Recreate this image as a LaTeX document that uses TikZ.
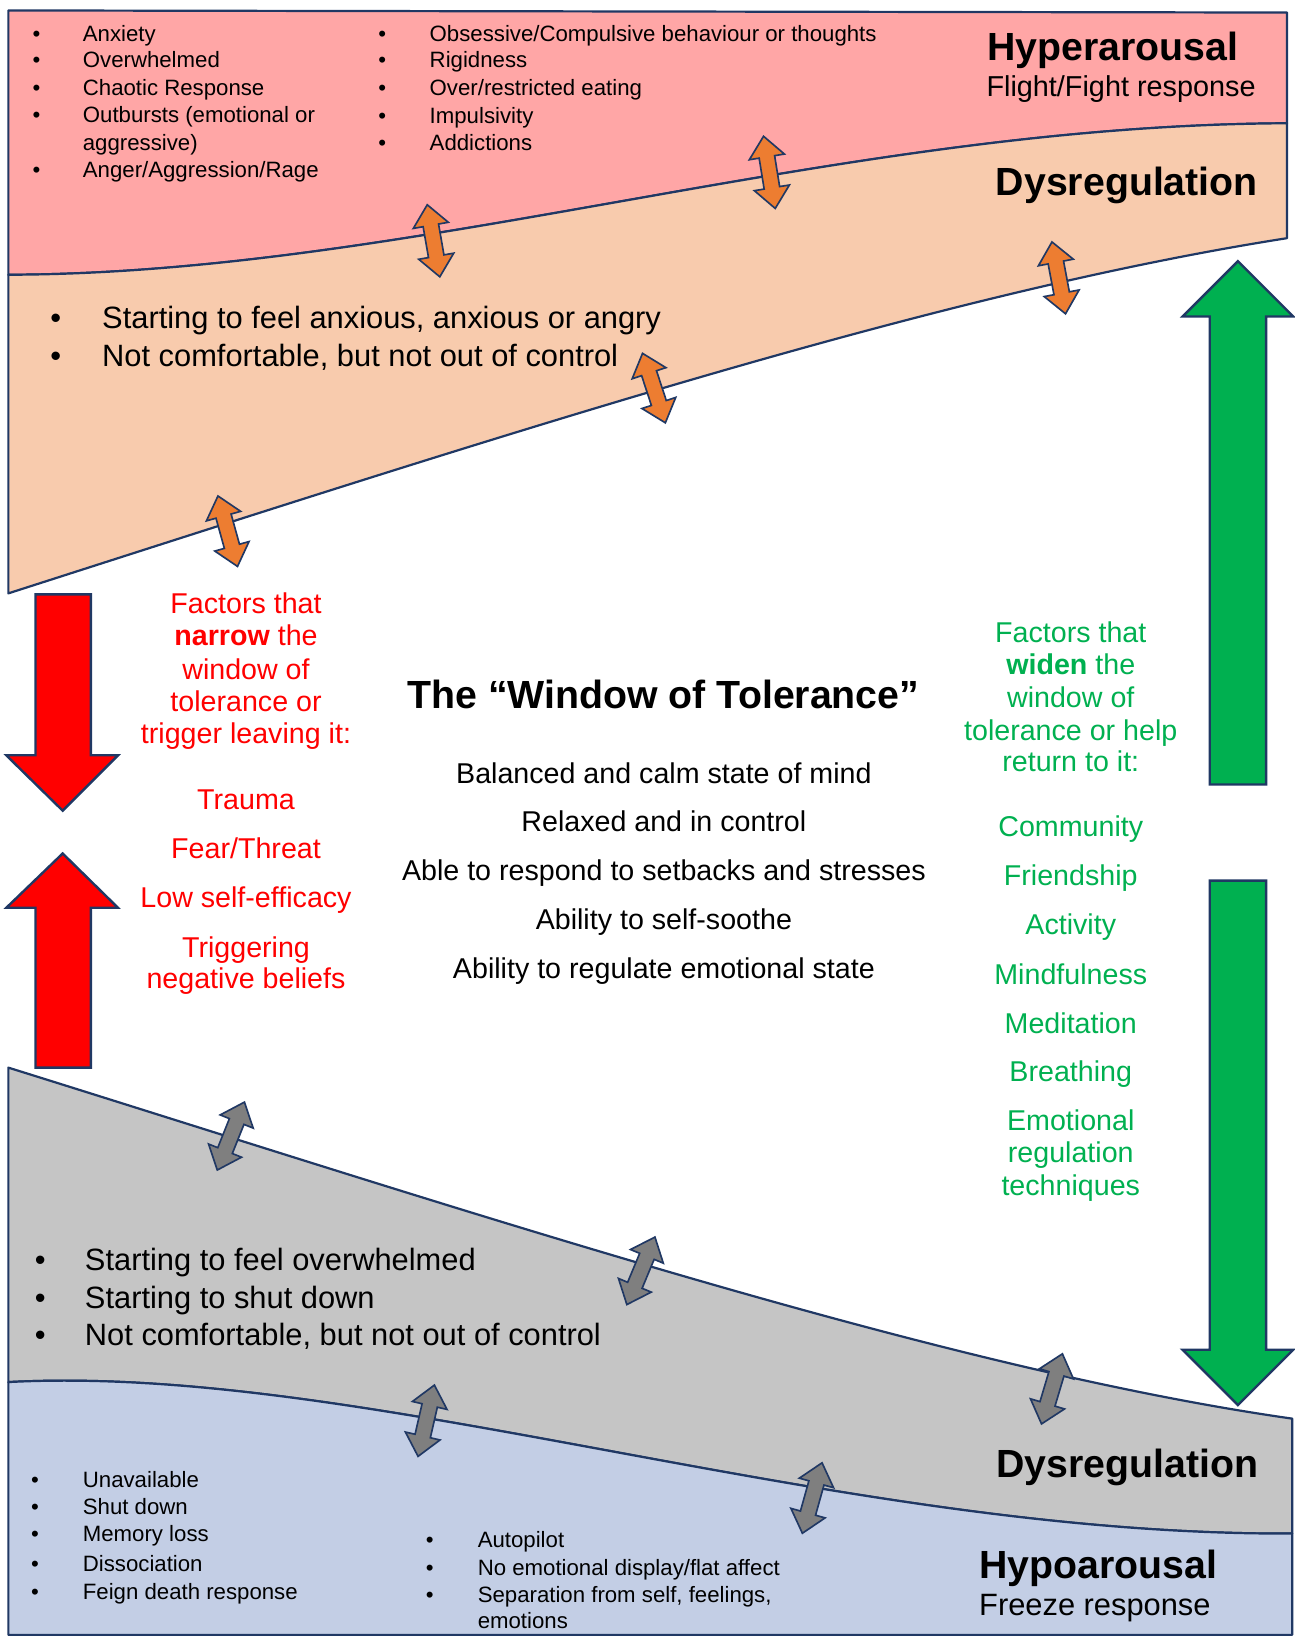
\documentclass[tikz,border=0pt]{standalone}
\usepackage{fontspec}
\setmainfont{Liberation Sans}
\definecolor{navy}{HTML}{203864}
\definecolor{pinkF}{HTML}{FFA6A6}
\definecolor{peachF}{HTML}{F8CBAD}
\definecolor{grayF}{HTML}{C5C5C5}
\definecolor{blueF}{HTML}{C3CEE5}
\definecolor{orangeF}{HTML}{ED7D31}
\definecolor{grayA}{HTML}{7F7F7F}
\definecolor{redF}{HTML}{FF0000}
\definecolor{greenF}{HTML}{00B050}
\tikzset{
  dbl/.pic={\path[pic actions] (0,35) -- (17,15) -- (7.5,15) -- (7.5,-15) -- (17,-15) -- (0,-35) -- (-17,-15) -- (-7.5,-15) -- (-7.5,15) -- (-17,15) -- cycle;}
}
\begin{document}
\begin{tikzpicture}[x=0.02cm,y=-0.02cm,
  region/.style={draw=navy,line width=1.2pt,line join=round},
  bigarr/.style={draw=navy,line width=1.3pt,line join=miter},
  dblo/.style={fill=orangeF,draw=navy,line width=0.9pt,line join=miter},
  dblg/.style={fill=grayA,draw=navy,line width=0.9pt,line join=miter},
  lw/.style={inner sep=0pt,anchor=base west},
  lc/.style={inner sep=0pt,anchor=base},
  fs/.style={font=\fontsize{12.1}{14}\selectfont},
  fm/.style={font=\fontsize{16.8}{20}\selectfont},
  fr/.style={font=\fontsize{15.6}{18}\selectfont},
  fh/.style={font=\fontsize{21.4}{25}\selectfont\bfseries},
]
\useasboundingbox (0,0) rectangle (1239,1568);

% regions
\path[region,fill=pinkF] (8,10) -- (1232,12) -- (1232,118) .. controls (800,120) and (400,262) .. (8,263) -- cycle;
\path[region,fill=peachF] (8,263) .. controls (400,262) and (800,120) .. (1232,118) -- (1232,228) .. controls (900,280) and (500,410) .. (8,568) -- cycle;
\path[region,fill=grayF] (8,1022) .. controls (450,1160) and (900,1310) .. (1237,1358) -- (1237,1468) .. controls (800,1470) and (350,1305) .. (8,1323) -- cycle;
\path[region,fill=blueF] (8,1323) .. controls (350,1305) and (800,1470) .. (1237,1468) -- (1237,1565) -- (8,1565) -- cycle;

% big arrows
\path[bigarr,fill=redF] (34,569) -- (87,569) -- (87,723) -- (113,723) -- (60,776) -- (6,723) -- (34,723) -- cycle;
\path[bigarr,fill=redF] (60,817) -- (113,869) -- (87,869) -- (87,1022) -- (34,1022) -- (34,869) -- (6,869) -- cycle;
\path[bigarr,fill=greenF] (1185,250) -- (1238,303) -- (1212,303) -- (1212,751) -- (1158,751) -- (1158,303) -- (1132,303) -- cycle;
\path[bigarr,fill=greenF] (1158,843) -- (1212,843) -- (1212,1292) -- (1238,1292) -- (1185,1345) -- (1132,1292) -- (1158,1292) -- cycle;

% small double arrows
\pic[dblo,rotate=9.9] at (415,230.5) {dbl};
\pic[dblo,rotate=9.2] at (736.5,165) {dbl};
\pic[dblo,rotate=10.7] at (1013.5,266) {dbl};
\pic[dblo,rotate=18.2] at (626,371.5) {dbl};
\pic[dblo,rotate=15.5] at (218,508.5) {dbl};
\pic[dblg,rotate=-21.8] at (221,1087.5) {dbl};
\pic[dblg,rotate=-22.6] at (613.5,1216.5) {dbl};
\pic[dblg,rotate=-16.6] at (1007,1329.5) {dbl};
\pic[dblg,rotate=-12.9] at (408,1360) {dbl};
\pic[dblg,rotate=-15.6] at (777.5,1434) {dbl};

% hyperarousal lists
\node[lc,fs] (pb1) at (35,39.7) {•};
\node[lc,fs] (pb2) at (35,64.7) {•};
\node[lc,fs] (pb3) at (35,91.7) {•};
\node[lc,fs] (pb4) at (35,117.7) {•};
\node[lc,fs] (pb6) at (35,169.7) {•};
\node[lw,fs] (pa1) at (79,39.7) {Anxiety};
\node[lw,fs] (pa2) at (79,64.7) {Overwhelmed};
\node[lw,fs] (pa3) at (79,91.7) {Chaotic Response};
\node[lw,fs] (pa4) at (79,117.7) {Outbursts (emotional or};
\node[lw,fs] (pa5) at (79,143.7) {aggressive)};
\node[lw,fs] (pa6) at (79,169.7) {Anger/Aggression/Rage};
\node[lc,fs] (qb1) at (366,39.7) {•};
\node[lc,fs] (qb2) at (366,64.7) {•};
\node[lc,fs] (qb3) at (366,91.7) {•};
\node[lc,fs] (qb4) at (366,118) {•};
\node[lc,fs] (qb5) at (366,144.5) {•};
\node[lw,fs] (qa1) at (411,39.7) {Obsessive/Compulsive behaviour or thoughts};
\node[lw,fs] (qa2) at (411,64.7) {Rigidness};
\node[lw,fs] (qa3) at (411,91.7) {Over/restricted eating};
\node[lw,fs] (qa4) at (411,118) {Impulsivity};
\node[lw,fs] (qa5) at (411,144.5) {Addictions};

\node[lw,fh] (hyper) at (945,58) {Hyperarousal};
\node[lw,font=\fontsize{15.7}{18}\selectfont] (flight) at (944,92.6) {Flight/Fight response};
\node[lw,fh] (dysT) at (953,186.7) {Dysregulation};

% peach bullets
\node[lc,fm] (eb1) at (53.5,314) {•};
\node[lc,fm] (eb2) at (53.5,350.5) {•};
\node[lw,fm] (ea1) at (97.5,314) {Starting to feel anxious, anxious or angry};
\node[lw,fm] (ea2) at (97.5,350.5) {Not comfortable, but not out of control};

% red block
\node[lc,fr,text=redF] (r1) at (235.5,587.5) {Factors that};
\node[lc,fr,text=redF] (r2) at (235.5,618) {\textbf{narrow} the};
\node[lc,fr,text=redF] (r3) at (235.5,650) {window of};
\node[lc,fr,text=redF] (r4) at (235.5,681.5) {tolerance or};
\node[lc,fr,text=redF] (r5) at (235.5,711.5) {trigger leaving it:};
\node[lc,fr,text=redF] (r6) at (235.5,774.5) {Trauma};
\node[lc,fr,text=redF] (r7) at (235.5,821.5) {Fear/Threat};
\node[lc,fr,text=redF] (r8) at (235.5,868.5) {Low self-efficacy};
\node[lc,fr,text=redF] (r9) at (235.5,917) {Triggering};
\node[lc,fr,text=redF] (r10) at (235.5,946.5) {negative beliefs};

% centre block
\node[lc,fh] (title) at (635,678.5) {The “Window of Tolerance”};
\node[lc,fr] (m1) at (635.5,750) {Balanced and calm state of mind};
\node[lc,fr] (m2) at (635.5,796) {Relaxed and in control};
\node[lc,fr] (m3) at (635.5,843) {Able to respond to setbacks and stresses};
\node[lc,fr] (m4) at (635.5,890) {Ability to self-soothe};
\node[lc,fr] (m5) at (635.5,937) {Ability to regulate emotional state};

% green block
\node[lc,fr,text=greenF] (g1) at (1025,615) {Factors that};
\node[lc,fr,text=greenF] (g2) at (1025,646) {\textbf{widen} the};
\node[lc,fr,text=greenF] (g3) at (1025,677) {window of};
\node[lc,fr,text=greenF] (g4) at (1025,709) {tolerance or help};
\node[lc,fr,text=greenF] (g5) at (1025,738.5) {return to it:};
\node[lc,fr,text=greenF] (g6) at (1025,801) {Community};
\node[lc,fr,text=greenF] (g7) at (1025,848) {Friendship};
\node[lc,fr,text=greenF] (g8) at (1025,895) {Activity};
\node[lc,fr,text=greenF] (g9) at (1025,942) {Mindfulness};
\node[lc,fr,text=greenF] (g10) at (1025,989) {Meditation};
\node[lc,fr,text=greenF] (g11) at (1025,1035) {Breathing};
\node[lc,fr,text=greenF] (g12) at (1025,1082) {Emotional};
\node[lc,fr,text=greenF] (g13) at (1025,1113) {regulation};
\node[lc,fr,text=greenF] (g14) at (1025,1144.5) {techniques};

% gray bullets
\node[lc,fm] (sb1) at (38.5,1216) {•};
\node[lc,fm] (sb2) at (38.5,1252.6) {•};
\node[lc,fm] (sb3) at (38.5,1288) {•};
\node[lw,fm] (sa1) at (81,1216) {Starting to feel overwhelmed};
\node[lw,fm] (sa2) at (81,1252.6) {Starting to shut down};
\node[lw,fm] (sa3) at (81,1288) {Not comfortable, but not out of control};

% hypoarousal lists
\node[lc,fs] (ub1) at (33.5,1423.5) {•};
\node[lc,fs] (ub2) at (33.5,1449.6) {•};
\node[lc,fs] (ub3) at (33.5,1476) {•};
\node[lc,fs] (ub4) at (33.5,1504) {•};
\node[lc,fs] (ub5) at (33.5,1531.3) {•};
\node[lw,fs] (ua1) at (79,1423.5) {Unavailable};
\node[lw,fs] (ua2) at (79,1449.6) {Shut down};
\node[lw,fs] (ua3) at (79,1476) {Memory loss};
\node[lw,fs] (ua4) at (79,1504) {Dissociation};
\node[lw,fs] (ua5) at (79,1531.3) {Feign death response};
\node[lc,fs] (vb1) at (411.5,1481) {•};
\node[lc,fs] (vb2) at (411.5,1508) {•};
\node[lc,fs] (vb3) at (411.5,1534) {•};
\node[lw,fs] (va1) at (457,1481) {Autopilot};
\node[lw,fs] (va2) at (457,1508) {No emotional display/flat affect};
\node[lw,fs] (va3) at (457,1534) {Separation from self, feelings,};
\node[lw,fs] (va4) at (457,1559) {emotions};

\node[lw,fh] (dysB) at (953.6,1414) {Dysregulation};
\node[lw,fh] (hypo) at (937,1511) {Hypoarousal};
\node[lw,fm] (freeze) at (937,1546) {Freeze response};
\end{tikzpicture}
\end{document}
